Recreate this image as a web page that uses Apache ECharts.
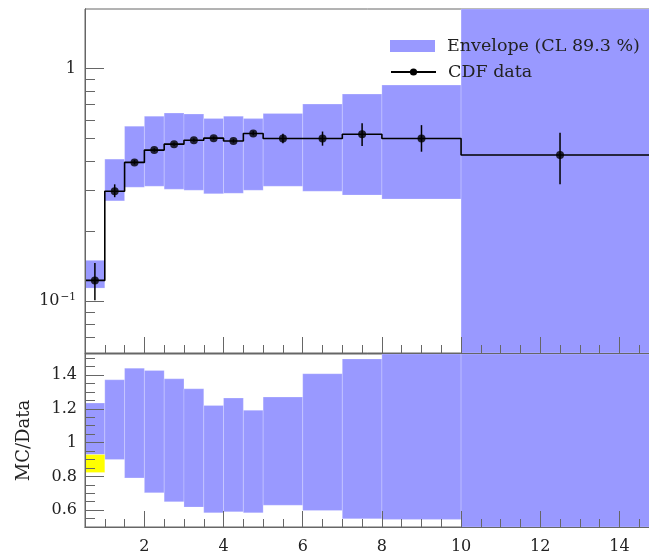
<!DOCTYPE html>
<html>
<head>
<meta charset="utf-8">
<script src="https://cdn.jsdelivr.net/npm/echarts@6/dist/echarts.min.js"></script>
<style>
  html, body { margin: 0; padding: 0; background: #fff; }
  #chart { width: 649px; height: 560px; }
</style>
</head>
<body>
<div id="chart"></div>
<script>
// bins (x edges) and values
const binEdges = [0.5, 1, 1.5, 2, 2.5, 3, 3.5, 4, 4.5, 5, 6, 7, 8, 10, 15]
const cdfData = [0.123, 0.297, 0.395, 0.446, 0.473, 0.492, 0.502, 0.488, 0.526, 0.500, 0.500, 0.522, 0.500, 0.425]
const cdfErrLo = [0.101, 0.280, 0.387, 0.439, 0.466, 0.485, 0.495, 0.480, 0.516, 0.477, 0.466, 0.465, 0.439, 0.318]
const cdfErrHi = [0.146, 0.318, 0.404, 0.454, 0.481, 0.500, 0.510, 0.497, 0.537, 0.524, 0.536, 0.581, 0.571, 0.529]
const envLo = [0.114, 0.270, 0.309, 0.312, 0.303, 0.300, 0.290, 0.291, 0.300, 0.312, 0.297, 0.286, 0.275, 0.05]
const envHi = [0.150, 0.408, 0.565, 0.624, 0.643, 0.637, 0.610, 0.624, 0.609, 0.641, 0.703, 0.776, 0.848, 2.0]
const ratioLo = [0.929, 0.900, 0.791, 0.703, 0.650, 0.618, 0.584, 0.590, 0.584, 0.629, 0.598, 0.549, 0.545, 0.40]
const ratioHi = [1.234, 1.372, 1.441, 1.427, 1.378, 1.319, 1.220, 1.264, 1.191, 1.270, 1.408, 1.496, 1.700, 2.0]
const yellowLo = [0.823]
const yellowHi = [0.929]

const xTicks = [2, 4, 6, 8, 10, 12, 14]
const logTicks = [0.1, 1]
const logMinor = [0.06, 0.07, 0.08, 0.09, 0.2, 0.3, 0.4, 0.5, 0.6, 0.7, 0.8, 0.9]
const ratioTicks = [0.6, 0.8, 1, 1.2, 1.4]

const xMinor = []
for (let v = 1; v <= 14.5; v += 0.5) if (v % 2 !== 0) xMinor.push(v)
const ratioMinor = []
for (let i = 11; i <= 30; i++) { const v = i / 20; if (i % 4 !== 0) ratioMinor.push(v) }

const FONT = 'DejaVu Serif'
const AX = '#666'
const BAND = '#9999ff'

const lg = Math.log10
const bandData = envLo.map((lo, i) => [binEdges[i], binEdges[i + 1], lg(lo), lg(envHi[i])])
const ratioData = ratioLo.map((lo, i) => [binEdges[i], binEdges[i + 1], lo, ratioHi[i]])
const yellowData = yellowLo.map((lo, i) => [binEdges[i], binEdges[i + 1], lo, yellowHi[i]])
const stepData = cdfData.map((v, i) => [binEdges[i], lg(v)])
stepData.push([binEdges[binEdges.length - 1], lg(cdfData[cdfData.length - 1])])
const centers = cdfData.map((v, i) => (binEdges[i] + binEdges[i + 1]) / 2)
const pointData = cdfData.map((v, i) => [centers[i], lg(v)])
const errData = cdfData.map((v, i) => [centers[i], lg(cdfErrLo[i]), lg(cdfErrHi[i])])

function rectItem(params, api) {
  const cs = params.coordSys
  const a = api.coord([api.value(0), api.value(3)])
  const b = api.coord([api.value(1), api.value(2)])
  const x0 = Math.max(a[0], cs.x), x1 = Math.min(b[0], cs.x + cs.width)
  const y0 = Math.max(a[1], cs.y), y1 = Math.min(b[1], cs.y + cs.height)
  return {
    type: 'rect',
    shape: { x: x0, y: y0, width: x1 - x0, height: y1 - y0 },
    style: { fill: api.visual('color'), stroke: 'rgba(255,255,255,0.35)', lineWidth: 0.6 },
  }
}

function errItem(params, api) {
  const lo = api.coord([api.value(0), api.value(1)])
  const hi = api.coord([api.value(0), api.value(2)])
  return {
    type: 'line',
    shape: { x1: lo[0], y1: lo[1], x2: hi[0], y2: hi[1] },
    style: { stroke: '#000', lineWidth: 1.5 },
  }
}

function xAxisOf(gridIndex, values, len, labels) {
  return {
    type: 'value', gridIndex, position: 'bottom', min: 0.5, max: 15, z: 10,
    axisLine: { show: true, onZero: false, lineStyle: { color: AX, width: 1 } },
    axisTick: { show: true, inside: true, length: len, customValues: values, lineStyle: { color: AX } },
    axisLabel: labels
      ? { show: true, customValues: values, margin: 12, fontFamily: FONT, fontSize: 16, color: '#222' }
      : { show: false },
    splitLine: { show: false },
  }
}

function yAxisOf(gridIndex, min, max, values, len, labels) {
  return {
    type: 'value', gridIndex, position: 'left', min, max, z: 10,
    axisLine: { show: true, onZero: false, lineStyle: { color: AX, width: 1 } },
    axisTick: { show: true, inside: true, length: len, customValues: values, lineStyle: { color: AX } },
    axisLabel: labels || { show: false },
    splitLine: { show: false },
  }
}

const myChart = echarts.init(document.getElementById('chart'))
const option = {
  backgroundColor: '#fff',
  animation: false,
  grid: [
    { left: 85, width: 574, top: 9, height: 344, outerBoundsMode: 'none', containLabel: false, show: true, borderColor: AX, borderWidth: 1, backgroundColor: 'transparent' },
    { left: 85, width: 574, top: 354, height: 173, outerBoundsMode: 'none', containLabel: false, show: true, borderColor: AX, borderWidth: 1, backgroundColor: 'transparent' },
  ],
  legend: [
    {
      data: [{ name: 'Envelope (CL 89.3 %)', icon: 'rect' }],
      left: 390, top: 37, padding: 0, itemWidth: 45, itemHeight: 12, selectedMode: false,
      textStyle: { fontFamily: FONT, fontSize: 17.5, color: '#222', padding: [0, 0, 0, 7] },
    },
    {
      data: [{ name: 'CDF data' }],
      left: 390, top: 63, padding: 0, itemWidth: 45, itemHeight: 9, selectedMode: false,
      textStyle: { fontFamily: FONT, fontSize: 17.5, color: '#222', padding: [0, 0, 0, 7] },
    },
  ],
  xAxis: [
    xAxisOf(0, xTicks, 16, false),
    xAxisOf(0, xMinor, 8, false),
    xAxisOf(1, xTicks, 16, true),
    xAxisOf(1, xMinor, 8, false),
  ],
  yAxis: [
    yAxisOf(0, lg(0.06), lg(1.8), logTicks.map(lg), 19, {
      show: true, customValues: logTicks.map(lg), margin: 9, fontFamily: FONT, fontSize: 16, color: '#222',
      formatter: v => (Math.abs(v) < 1e-9 ? '1' : '{b|10}{s|−1}'),
      rich: {
        b: { fontFamily: FONT, fontSize: 16, color: '#222' },
        s: { fontFamily: FONT, fontSize: 10.5, color: '#222', padding: [0, 0, 9, 1] },
      },
    }),
    yAxisOf(0, lg(0.06), lg(1.8), logMinor.map(lg), 10, null),
    Object.assign(yAxisOf(1, 0.5, 1.525, ratioTicks, 19, {
      show: true, customValues: ratioTicks, margin: 8, fontFamily: FONT, fontSize: 16, color: '#222',
    }), {
      name: 'MC/Data', nameLocation: 'middle', nameGap: 52, nameRotate: 90,
      nameTextStyle: { fontFamily: FONT, fontSize: 18, color: '#222' },
    }),
    yAxisOf(1, 0.5, 1.525, ratioMinor, 10, null),
  ],
  series: [
    {
      name: 'Envelope (CL 89.3 %)', type: 'custom', xAxisIndex: 0, yAxisIndex: 0,
      itemStyle: { color: BAND }, renderItem: rectItem, data: bandData, z: 2,
    },
    {
      name: 'CDF data', type: 'line', xAxisIndex: 0, yAxisIndex: 0, step: 'end',
      symbol: 'circle', showSymbol: false, color: '#000',
      lineStyle: { color: '#000', width: 1.6 }, itemStyle: { color: '#000' },
      data: stepData, z: 4,
    },
    {
      name: 'errors', type: 'custom', xAxisIndex: 0, yAxisIndex: 0,
      renderItem: errItem, data: errData, z: 5,
    },
    {
      name: 'points', type: 'scatter', xAxisIndex: 0, yAxisIndex: 0,
      symbol: 'circle', symbolSize: 8, itemStyle: { color: '#000' }, data: pointData, z: 6,
    },
    {
      name: 'ratio', type: 'custom', xAxisIndex: 2, yAxisIndex: 2,
      itemStyle: { color: BAND }, renderItem: rectItem, data: ratioData, z: 2,
    },
    {
      name: 'tune', type: 'custom', xAxisIndex: 2, yAxisIndex: 2,
      itemStyle: { color: '#ffff00' }, renderItem: rectItem, data: yellowData, z: 3,
    },
  ],
}
myChart.setOption(option, true)
</script>
</body>
</html>
